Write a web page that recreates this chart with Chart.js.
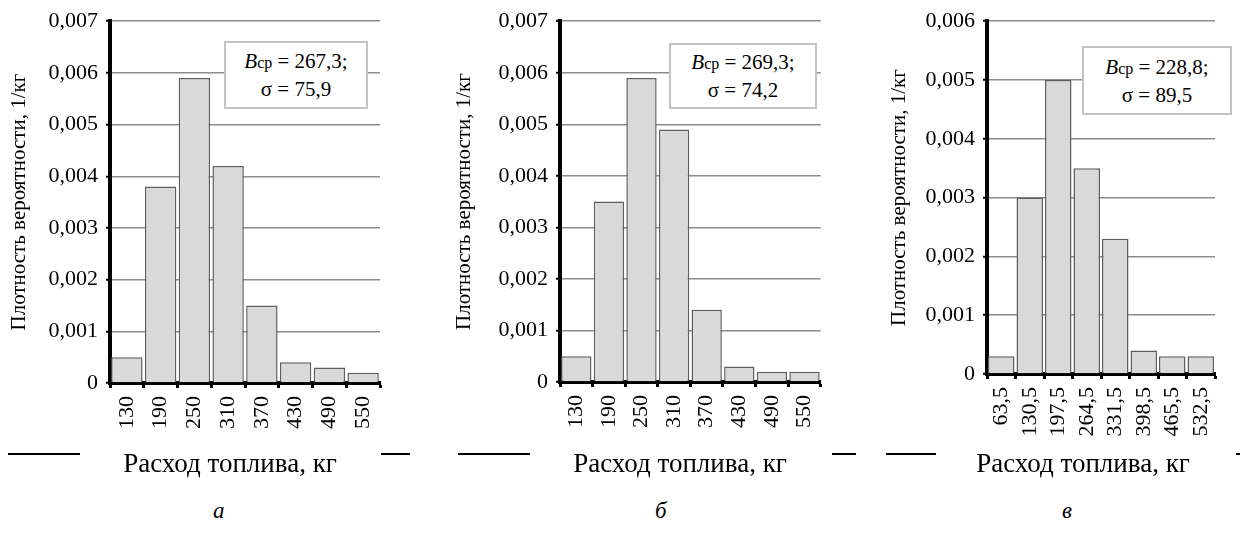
<!DOCTYPE html>
<html>
<head>
<meta charset="utf-8">
<script src="https://cdn.jsdelivr.net/npm/chart.js@4.4.1/dist/chart.umd.min.js"></script>
<style>
body{margin:0;background:#fff;width:1240px;height:543px;position:relative;overflow:hidden;font-family:"Liberation Serif","Times New Roman",serif;color:#000}
canvas{position:absolute;top:0}
.box{position:absolute;border:2px solid #c3c3c3;background:#fff;box-sizing:border-box;text-align:center;font-size:21px;line-height:26px;display:flex;flex-direction:column;justify-content:center}
.box i{font-style:italic}
.box small{font-size:16px}
.line{position:absolute;top:453px;height:2px;background:#000}
.xt{position:absolute;top:446px;width:300px;text-align:center;font-size:27px;line-height:34px}
.cap{position:absolute;top:498px;font-style:italic;font-size:23px}
</style>
</head>
<body>
<canvas id="chartA" width="400" height="480" style="left:0px"></canvas>
<canvas id="chartB" width="395" height="480" style="left:445px"></canvas>
<canvas id="chartC" width="360" height="480" style="left:880px"></canvas>

<div class="box" style="left:224px;top:41px;width:144px;height:68px"><div><i>B</i><small>ср</small> = 267,3;</div><div>σ = 75,9</div></div>
<div class="box" style="left:669px;top:43px;width:148px;height:66px"><div><i>B</i><small>ср</small> = 269,3;</div><div>σ = 74,2</div></div>
<div class="box" style="left:1082px;top:46px;width:150px;height:69px"><div><i>B</i><small>ср</small> = 228,8;</div><div>σ = 89,5</div></div>

<div class="line" style="left:8px;width:72px"></div>
<div class="line" style="left:381px;width:29px"></div>
<div class="line" style="left:458px;width:72px"></div>
<div class="line" style="left:832px;width:24px"></div>
<div class="line" style="left:886px;width:50px"></div>
<div class="line" style="left:1236px;width:4px"></div>

<div class="xt" id="xtA" style="left:80px"></div>
<div class="xt" id="xtB" style="left:530px"></div>
<div class="xt" id="xtC" style="left:933px"></div>

<div class="cap" style="left:213px">а</div>
<div class="cap" style="left:655px">б</div>
<div class="cap" style="left:1062px">в</div>

<script>
// данные гистограмм
const labelsA = ['130', '190', '250', '310', '370', '430', '490', '550'];
const valuesA = [0.0005, 0.0038, 0.0059, 0.0042, 0.0015, 0.0004, 0.0003, 0.0002];

const labelsB = ['130', '190', '250', '310', '370', '430', '490', '550'];
const valuesB = [0.0005, 0.0035, 0.0059, 0.0049, 0.0014, 0.0003, 0.0002, 0.0002];

const labelsC = ['63,5', '130,5', '197,5', '264,5', '331,5', '398,5', '465,5', '532,5'];
const valuesC = [0.0003, 0.0030, 0.0050, 0.0035, 0.0023, 0.0004, 0.0003, 0.0003];

const yMaxA = 0.007;
const yMaxB = 0.007;
const yMaxC = 0.006;

const xTitle = 'Расход топлива, кг';
const yTitle = 'Плотность вероятности, 1/кг';

// подпись оси X (центрирована по всей диаграмме, а не по области построения)
document.getElementById('xtA').textContent = xTitle;
document.getElementById('xtB').textContent = xTitle;
document.getElementById('xtC').textContent = xTitle;

Chart.defaults.font.family = '"Liberation Serif", "Times New Roman", serif';
Chart.defaults.color = '#000';

function makeChart(id, labels, values, yMax, yWidth, top, bottom, right) {
    const canvas = document.getElementById(id);
    const config = {
        type: 'bar',
        data: {
            labels: labels,
            datasets: [{
                data: values,
                backgroundColor: '#d9d9d9',
                borderColor: '#5f5f5f',
                borderWidth: 1.5,
                categoryPercentage: 1,
                barPercentage: 0.93
            }]
        },
        options: {
            responsive: false,
            animation: false,
            devicePixelRatio: 1,
            layout: { padding: { left: 0, right: right, top: top, bottom: 0 } },
            plugins: { legend: { display: false }, tooltip: { enabled: false } },
            scales: {
                x: {
                    offset: true,
                    grid: { offset: true, drawOnChartArea: false, tickLength: 5, tickWidth: 3, tickColor: '#000' },
                    border: { color: '#000', width: 4 },
                    ticks: { autoSkip: false, minRotation: 90, maxRotation: 90, padding: 8, font: { size: 22 } },
                    afterFit: function (scale) { scale.height = canvas.height - bottom; }
                },
                y: {
                    min: 0,
                    max: yMax,
                    ticks: {
                        stepSize: 0.001,
                        padding: 8,
                        font: { size: 22 },
                        callback: function (v) { return v === 0 ? '0' : v.toFixed(3).replace('.', ','); }
                    },
                    grid: { color: '#8c8c8c', lineWidth: 1.5, tickLength: 4, tickWidth: 2, tickColor: '#000' },
                    border: { color: '#000', width: 4 },
                    title: { display: true, text: yTitle, font: { size: 21 }, padding: { top: 7, bottom: 0 } },
                    afterFit: function (scale) { scale.width = yWidth; }
                }
            }
        }
    };
    return new Chart(canvas, config);
}

makeChart('chartA', labelsA, valuesA, yMaxA, 110, 19, 383, 20);
makeChart('chartB', labelsB, valuesB, yMaxB, 115, 20, 382, 18);
makeChart('chartC', labelsC, valuesC, yMaxC, 107, 20, 374, 25);
</script>
</body>
</html>
